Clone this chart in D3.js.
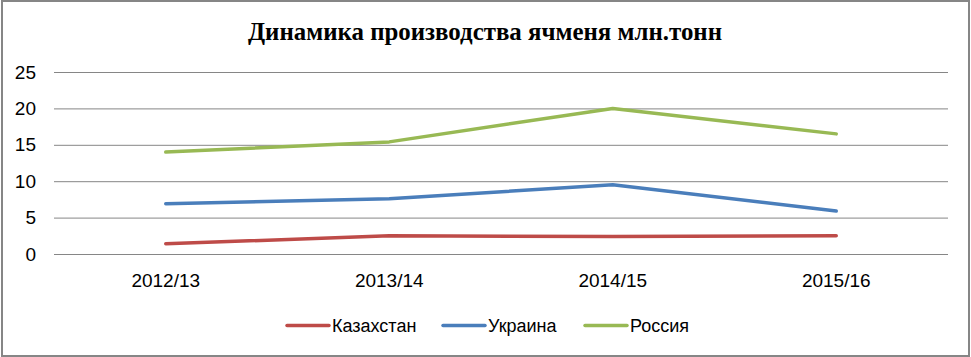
<!DOCTYPE html>
<html><head><meta charset="utf-8">
<script src="https://cdn.jsdelivr.net/npm/d3@7/dist/d3.min.js"></script>
<style>html,body{margin:0;padding:0;background:#fff;}svg{display:block;}</style>
</head><body>
<script>
const title = "Динамика производства ячменя млн.тонн";
const categories = ["2012/13", "2013/14", "2014/15", "2015/16"];
const seriesNames = ["Казахстан", "Украина", "Россия"];
const seriesColors = ["#BE4B48", "#4A7EBB", "#98B954"];
const kazakhstan = [1.4, 2.5, 2.4, 2.5];
const ukraine = [6.9, 7.6, 9.5, 5.9];
const russia = [14.0, 15.4, 20.0, 16.5];
const yTicks = [0, 5, 10, 15, 20, 25];

const W = 971, H = 357;
const svg = d3.select("body").append("svg").attr("width", W).attr("height", H);
svg.append("rect").attr("x", 2).attr("y", 1).attr("width", 967).attr("height", 355)
  .attr("fill", "#fff").attr("stroke", "#868686").attr("stroke-width", 2);

const plot = {left: 54, right: 948, top: 72, bottom: 254};
const x = d3.scaleBand().domain(categories).range([plot.left, plot.right]);
const y = d3.scaleLinear().domain([0, 25]).range([plot.bottom, plot.top]);

svg.append("text").attr("x", 485).attr("y", 40).attr("text-anchor", "middle")
  .attr("font-family", "Liberation Serif").attr("font-weight", "bold").attr("font-size", 25)
  .attr("textLength", 474).attr("lengthAdjust", "spacingAndGlyphs").text(title);

// grid
const yAxis = d3.axisLeft(y).tickValues(yTicks).tickSize(-(plot.right - plot.left)).tickPadding(18);
const gy = svg.append("g").attr("transform", `translate(${plot.left},0)`).call(yAxis);
gy.select(".domain").remove();
gy.selectAll(".tick line").attr("stroke", "#868686").attr("stroke-width", 1);
gy.selectAll(".tick text").attr("font-family", "Liberation Sans").attr("font-size", 19).attr("fill", "#000");

const xAxis = d3.axisBottom(x).tickSize(0).tickPadding(20);
const gx = svg.append("g").attr("transform", `translate(0,${plot.bottom})`).call(xAxis);
gx.select(".domain").remove();
gx.selectAll(".tick text").attr("font-family", "Liberation Sans").attr("font-size", 19).attr("fill", "#000");

const data = [kazakhstan, ukraine, russia];
const line = d3.line().x((d, i) => x(categories[i]) + x.bandwidth() / 2).y(d => y(d));
data.forEach((s, k) => {
  svg.append("path").datum(s).attr("d", line).attr("fill", "none")
    .attr("stroke", seriesColors[k]).attr("stroke-width", 3.5)
    .attr("stroke-linecap", "round").attr("stroke-linejoin", "round");
});

// legend
const legX = [287, 443, 585];
seriesNames.forEach((n, k) => {
  svg.append("line").attr("x1", legX[k]).attr("x2", legX[k] + 42).attr("y1", 325.5).attr("y2", 325.5)
    .attr("stroke", seriesColors[k]).attr("stroke-width", 3.5).attr("stroke-linecap", "round");
  svg.append("text").attr("x", legX[k] + 45).attr("y", 332).attr("font-family", "Liberation Sans")
    .attr("font-size", 18).attr("fill", "#000").text(n);
});
</script>
</body></html>
